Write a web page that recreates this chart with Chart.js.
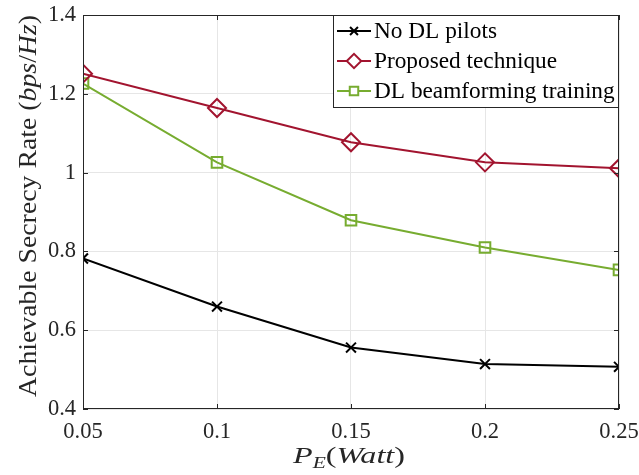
<!DOCTYPE html>
<html>
<head>
<meta charset="utf-8">
<script src="https://cdn.jsdelivr.net/npm/chart.js@4/dist/chart.umd.min.js"></script>
<style>
  html, body { margin: 0; padding: 0; background: #fff; }
  #wrap { width: 639px; height: 475px; }
</style>
</head>
<body>
<div id="wrap"><canvas id="rateChart" width="639" height="475"></canvas></div>
<script>
// transmit power of the eavesdropper (Watt)
var powerE = [0.05, 0.1, 0.15, 0.2, 0.25];

// achievable secrecy rate (bps/Hz)
var noPilots = [0.782, 0.660, 0.556, 0.514, 0.507];
var proposed = [1.251, 1.164, 1.077, 1.026, 1.011];
var dlTraining = [1.226, 1.026, 0.879, 0.810, 0.753];

var seriesNames = ['No DL pilots', 'Proposed technique', 'DL beamforming training'];

var xTicks = [0.05, 0.1, 0.15, 0.2, 0.25];
var yTicks = [0.4, 0.6, 0.8, 1, 1.2, 1.4];

var axisColor = '#262626';
var serif = '"Liberation Serif", "DejaVu Serif", serif';

function pts(ys) {
    return powerE.map(function (x, i) { return { x: x, y: ys[i] }; });
}

// writes a run of [text, style, size, dy] pieces, stretched sideways to the given length
function drawRuns(ctx, parts, x, y, length) {
    var total = 0;
    parts.forEach(function (p) { ctx.font = p[1] + p[2] + 'px ' + serif; total += ctx.measureText(p[0]).width; });
    ctx.save();
    ctx.translate(x, y);
    ctx.scale(length / total, 1);
    var cx = 0;
    parts.forEach(function (p) {
        ctx.font = p[1] + p[2] + 'px ' + serif;
        ctx.fillText(p[0], cx, p[3] || 0);
        cx += ctx.measureText(p[0]).width;
    });
    ctx.restore();
}

// frame, inward ticks, axis titles and the legend box
var decor = {
    id: 'decor',
    afterDraw: function (chart) {
        var ctx = chart.ctx;
        var a = chart.chartArea;
        var xs = chart.scales.x, ys = chart.scales.y;
        ctx.save();
        ctx.strokeStyle = axisColor;
        ctx.lineWidth = 1;
        ctx.strokeRect(a.left + 0.5, a.top + 0.5, a.right - a.left - 1, a.bottom - a.top - 1);
        ctx.beginPath();
        xTicks.forEach(function (v) {
            var px = Math.round(xs.getPixelForValue(v)) + 0.5;
            ctx.moveTo(px, a.bottom); ctx.lineTo(px, a.bottom - 5);
            ctx.moveTo(px, a.top); ctx.lineTo(px, a.top + 5);
        });
        yTicks.forEach(function (v) {
            var py = Math.round(ys.getPixelForValue(v)) + 0.5;
            ctx.moveTo(a.left, py); ctx.lineTo(a.left + 5, py);
            ctx.moveTo(a.right, py); ctx.lineTo(a.right - 5, py);
        });
        ctx.stroke();

        ctx.fillStyle = axisColor;
        ctx.textBaseline = 'alphabetic';

        // x title: P_E(Watt)
        drawRuns(ctx, [['P', 'italic ', 24], ['E', 'italic ', 16, 5], ['(', '', 24], ['Watt', 'italic ', 24], [')', '', 24]], 293, 463, 112);

        // y title, rotated
        ctx.save();
        ctx.translate(36, 397);
        ctx.rotate(-Math.PI / 2);
        drawRuns(ctx, [['Achievable Secrecy Rate (', '', 25], ['bps', 'italic ', 25], ['/', '', 25], ['Hz', 'italic ', 25], [')', '', 25]], 0, 0, 382);
        ctx.restore();

        // legend
        var lx = 333, ly = 15, lw = 286, lh = 93;
        ctx.fillStyle = '#fff';
        ctx.fillRect(lx, ly, lw, lh);
        ctx.strokeStyle = axisColor;
        ctx.lineWidth = 1;
        ctx.strokeRect(lx + 0.5, ly + 0.5, lw - 1, lh - 1);
        chart.data.datasets.forEach(function (ds, i) {
            var yy = ly + 16 + i * 30;
            ctx.strokeStyle = ds.borderColor;
            ctx.lineWidth = 2;
            ctx.beginPath();
            ctx.moveTo(lx + 4, yy); ctx.lineTo(lx + 38, yy);
            ctx.stroke();
            ctx.fillStyle = '#fff';
            Chart.helpers.drawPoint(ctx, {
                pointStyle: ds.pointStyle,
                radius: ds.pointRadius * 0.8,
                borderWidth: 2
            }, lx + 21, yy);
            ctx.fillStyle = '#000';
            ctx.font = '23.3px ' + serif;
            ctx.textBaseline = 'middle';
            ctx.fillText(seriesNames[i], lx + 41, yy + 1);
        });
        ctx.restore();
    }
};

var ctx = document.getElementById('rateChart').getContext('2d');
var rateChart = new Chart(ctx, {
    type: 'line',
    data: {
        datasets: [{
            label: seriesNames[0],
            data: pts(noPilots),
            borderColor: '#000000',
            pointStyle: 'crossRot',
            pointRadius: 7
        }, {
            label: seriesNames[1],
            data: pts(proposed),
            borderColor: '#A2142F',
            pointStyle: 'rectRot',
            pointRadius: 9
        }, {
            label: seriesNames[2],
            data: pts(dlTraining),
            borderColor: '#77AC30',
            pointStyle: 'rect',
            pointRadius: 7.5
        }]
    },
    options: {
        responsive: false,
        animation: false,
        layout: { padding: { left: 0, right: 20, top: 15, bottom: 0 } },
        elements: {
            line: { borderWidth: 2, tension: 0, fill: false },
            point: { borderWidth: 2, backgroundColor: 'rgba(0,0,0,0)' }
        },
        plugins: { legend: { display: false }, tooltip: { enabled: false } },
        scales: {
            x: {
                type: 'linear',
                min: 0.05,
                max: 0.25,
                afterFit: function (s) {
                    s.height = 66;
                    s.paddingLeft = 0;
                    s.paddingRight = 0;
                },
                afterBuildTicks: function (s) { s.ticks = xTicks.map(function (v) { return { value: v }; }); },
                grid: { color: '#e6e6e6', drawTicks: false },
                border: { display: false },
                ticks: {
                    padding: 10,
                    color: axisColor,
                    font: { family: serif, size: 22.5 },
                    callback: function (v) { return String(v); }
                }
            },
            y: {
                min: 0.4,
                max: 1.4,
                afterFit: function (s) {
                    s.width = 83;
                    s.paddingTop = 0;
                    s.paddingBottom = 0;
                },
                afterBuildTicks: function (s) { s.ticks = yTicks.map(function (v) { return { value: v }; }); },
                grid: { color: '#e6e6e6', drawTicks: false },
                border: { display: false },
                ticks: {
                    padding: 7,
                    color: axisColor,
                    font: { family: serif, size: 22.5 },
                    callback: function (v) { return String(v); }
                }
            }
        }
    },
    plugins: [decor]
});
</script>
</body>
</html>
